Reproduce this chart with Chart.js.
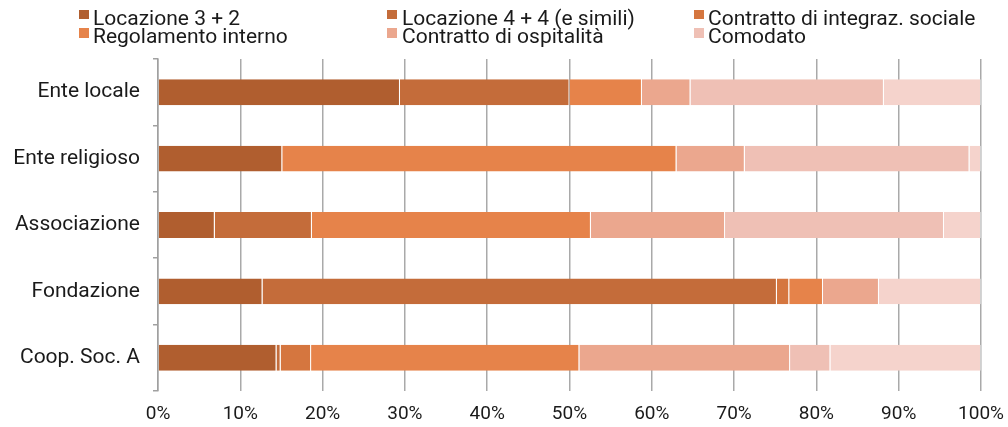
<!DOCTYPE html>
<html>
<head>
<meta charset="utf-8">
<script src="https://cdn.jsdelivr.net/npm/chart.js@4.4.1/dist/chart.umd.min.js"></script>
<style>
  html, body { margin: 0; padding: 0; background: #ffffff; }
  #wrap { position: relative; width: 1008px; height: 427px; overflow: hidden; }
  #chart { position: absolute; left: 0; top: 0; }
  #legend { position: absolute; left: 0; top: 0; width: 1008px; height: 50px; font-family: Roboto, "DejaVu Sans", sans-serif; font-size: 21px; color: #1a1a1a; }
  .item { position: absolute; white-space: nowrap; line-height: 18.3px; }
  .sw { position: absolute; width: 10px; height: 9.5px; }
</style>
</head>
<body>
<div id="wrap">
  <canvas id="chart" width="1008" height="427"></canvas>
  <div id="legend"></div>
</div>
<script>
const categories = ['Ente locale', 'Ente religioso', 'Associazione', 'Fondazione', 'Coop. Soc. A'];
const seriesNames = ['Locazione 3 + 2', 'Locazione 4 + 4 (e simili)', 'Contratto di integraz. sociale', 'Regolamento interno', 'Contratto di ospitalità', 'Comodato', 'Altro'];
const locazione32 = [29.4, 15.1, 6.9, 12.7, 14.4];
const locazione44 = [20.6, 0, 11.8, 62.5, 0.5];
const integrazSociale = [0, 0, 0, 1.5, 3.7];
const regolamento = [8.8, 47.9, 33.9, 4.1, 32.6];
const ospitalita = [5.9, 8.3, 16.3, 6.8, 25.6];
const comodato = [23.5, 27.3, 26.6, 0, 4.9];
const altro = [11.8, 1.4, 4.5, 12.4, 18.3];
const xTicks = [0, 10, 20, 30, 40, 50, 60, 70, 80, 90, 100];

const colors = ['#B05E2F', '#C46C3A', '#D5763F', '#E6834A', '#EBA78E', '#EFC0B5', '#F5D3CC'];
const values = [locazione32, locazione44, integrazSociale, regolamento, ospitalita, comodato, altro];
const legendCount = 6;

const datasets = values.map((v, i) => ({
  label: seriesNames[i],
  data: v,
  backgroundColor: colors[i],
  borderColor: 'rgba(255,255,255,0.45)',
  borderWidth: { left: 0, right: 1, top: 0, bottom: 0 },
  borderSkipped: false,
  barPercentage: 0.78,
  categoryPercentage: 0.5
}));

const fontFamily = 'Roboto, "DejaVu Sans", sans-serif';

new Chart(document.getElementById('chart'), {
  type: 'bar',
  data: { labels: categories, datasets },
  options: {
    indexAxis: 'y',
    responsive: false,
    animation: false,
    layout: { padding: { top: 59, right: 27, bottom: 0, left: 0 } },
    plugins: { legend: { display: false }, tooltip: { enabled: false } },
    scales: {
      x: {
        stacked: true,
        min: 0,
        max: 100,
        afterBuildTicks: (s) => { s.ticks = xTicks.map(v => ({ value: v })); },
        afterFit: (s) => { s.height = 36; s.paddingLeft = 0; s.paddingRight = 0; },
        ticks: { callback: (v) => v + '%', font: { family: fontFamily, size: 19 }, color: '#1a1a1a', padding: 12 },
        grid: { color: '#A9A9A9', lineWidth: 1.5, drawTicks: false },
        border: { display: false }
      },
      y: {
        stacked: true,
        afterFit: (s) => { s.width = 158; },
        ticks: { font: { family: fontFamily, size: 21 }, color: '#1a1a1a', padding: 13 },
        grid: { drawOnChartArea: false, drawTicks: true, tickLength: 5, color: '#A0A0A0', lineWidth: 1.5, offset: true },
        border: { display: true, color: '#A0A0A0', width: 1.5 }
      }
    }
  }
});

// HTML legend (two rows, three columns)
const legendPos = [
  { sx: 79, tx: 93, row: 0 }, { sx: 387, tx: 402, row: 0 }, { sx: 694, tx: 708, row: 0 },
  { sx: 79, tx: 93, row: 1 }, { sx: 387, tx: 402, row: 1 }, { sx: 694, tx: 708, row: 1 }
];
const leg = document.getElementById('legend');
for (let i = 0; i < legendCount; i++) {
  const p = legendPos[i];
  const top = 8.6 + p.row * 18.3;
  const sw = document.createElement('div');
  sw.className = 'sw';
  sw.style.left = p.sx + 'px';
  sw.style.top = (top + 1.2) + 'px';
  sw.style.background = colors[i];
  leg.appendChild(sw);
  const t = document.createElement('div');
  t.className = 'item';
  t.style.left = p.tx + 'px';
  t.style.top = top + 'px';
  t.textContent = seriesNames[i];
  leg.appendChild(t);
}
</script>
</body>
</html>
